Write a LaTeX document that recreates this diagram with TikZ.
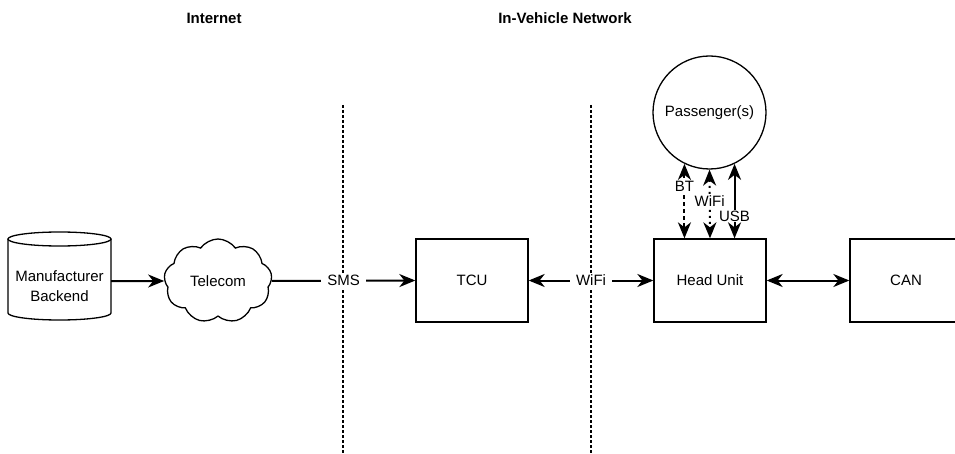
\documentclass[tikz,border=0pt]{standalone}
\usepackage{fontspec}
\setmainfont{Liberation Sans}
\usetikzlibrary{shapes.symbols,arrows.meta}
\tikzset{
  headtip/.tip={Stealth[length=16pt,width=13pt,inset=5pt]},
}
\begin{document}
\begin{tikzpicture}[x=1pt,y=-1pt,
  every node/.style={font=\fontsize{15}{20}\selectfont},
  box/.style={draw, line width=1.3pt, minimum width=112pt, minimum height=83pt, inner sep=0pt},
  link/.style={line width=2pt, -{headtip}},
  both/.style={line width=2pt, {headtip}-{headtip}},
  tag/.style={fill=white, inner xsep=6pt, inner ysep=2pt},
  ptag/.style={fill=white, inner xsep=1pt, inner ysep=1pt},
  border/.style={line width=1.4pt, dash pattern=on 3pt off 2pt},
  heading/.style={font=\fontsize{15}{18}\selectfont\bfseries}]

\useasboundingbox (0,0) rectangle (955,454);

% zone headings
\node[heading] (inet) at (214,18) {Internet};
\node[heading] (ivn) at (565,18) {In-Vehicle Network};

% zone borders
\coordinate (b1t) at (343,105);
\coordinate (b1b) at (343,454);
\coordinate (b2t) at (591,105);
\coordinate (b2b) at (591,454);
\draw[border] (b1t) -- (b1b);
\draw[border] (b2t) -- (b2b);

% backend database (cylinder)
\draw[line width=1.3pt] (8,239) -- (8,313)
  arc[start angle=180, end angle=0, x radius=51.5, y radius=7] -- (111,239);
\draw[line width=1.3pt] (59.5,239) ellipse[x radius=51.5, y radius=7];
\node[minimum width=103pt, minimum height=74pt, inner sep=0pt, align=center]
  (mb) at (59.5,286) {Manufacturer\\Backend};

% telecom cloud
\node[draw, cloud, cloud puffs=9, cloud puff arc=110, aspect=1.3, line width=1.3pt,
  minimum width=108pt, minimum height=84pt, inner sep=0pt] (tel) at (218,281) {Telecom};

% vehicle components
\node[box] (tcu) at (472,280.5) {TCU};
\node[box] (hu) at (710,280.5) {Head Unit};
\node[box] (can) at (906,280.5) {CAN};

% passengers
\node[draw, circle, minimum size=113pt, inner sep=0pt, line width=1.3pt]
  (pass) at (709.5,112.5) {Passenger(s)};

% connections
\draw[link] (mb.east |- tel) -- (tel.west);
\draw[link] (tel.east) -- (tcu.west) node[tag, midway] {SMS};
\draw[both] (tcu.east) -- (hu.west) node[tag, midway] {WiFi};
\draw[both] (hu.east) -- (can.west);

\draw[both, dash pattern=on 4pt off 3pt] (pass.244) -- (pass.244 |- hu.north)
  node[ptag, pos=0.3] {BT};
\draw[both, dash pattern=on 2pt off 4pt] (pass.south) -- (hu.north)
  node[ptag, pos=0.46] {WiFi};
\draw[both] (pass.296) -- (pass.296 |- hu.north)
  node[ptag, pos=0.7] {USB};
\end{tikzpicture}
\end{document}
